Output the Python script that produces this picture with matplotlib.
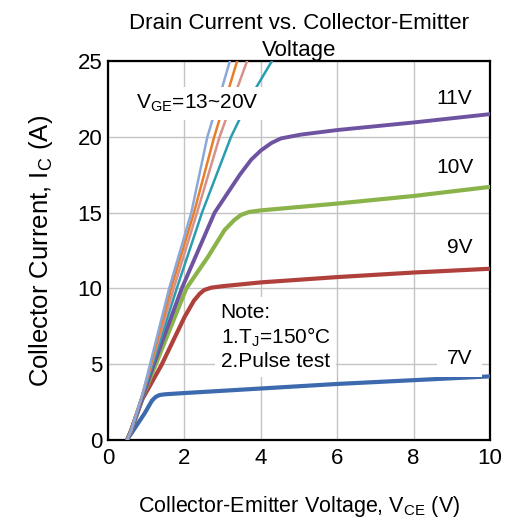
import matplotlib.pyplot as plt
import numpy as np

plt.rcParams['font.family'] = ['Liberation Sans', 'DejaVu Sans']

# output curves: V_CE (V), I_C (A)
vge20_x = [0.5, 0.6, 0.9, 1.1, 1.6, 2.18, 2.6, 2.9, 3.19]
vge20_y = [0.0, 0.6, 3.0, 5.0, 10.0, 15.0, 20.0, 22.5, 25.0]
vge17_x = [0.5, 0.6, 0.9, 1.12, 1.65, 2.25, 2.78, 3.08, 3.38]
vge17_y = [0.0, 0.6, 3.0, 5.0, 10.0, 15.0, 20.0, 22.5, 25.0]
vge15_x = [0.5, 0.6, 0.9, 1.14, 1.72, 2.33, 2.92, 3.28, 3.64]
vge15_y = [0.0, 0.6, 3.0, 5.0, 10.0, 15.0, 20.0, 22.5, 25.0]
vge13_x = [0.5, 0.6, 0.9, 1.17, 1.8, 2.46, 3.22, 3.7, 4.29]
vge13_y = [0.0, 0.6, 2.9, 5.0, 10.0, 15.0, 20.0, 22.5, 25.0]
vge11_x = [0.5, 0.6, 0.9, 1.2, 1.93, 2.79, 3.45, 3.75, 4.0, 4.28, 4.53, 5.05, 6.0, 8.0, 10.0]
vge11_y = [0.0, 0.6, 2.8, 5.0, 10.0, 15.0, 17.5, 18.5, 19.1, 19.6, 19.9, 20.15, 20.45, 20.95, 21.5]
vge10_x = [0.5, 0.6, 0.9, 1.25, 2.05, 2.62, 3.05, 3.3, 3.48, 3.7, 4.0, 6.0, 8.0, 10.0]
vge10_y = [0.0, 0.6, 2.8, 5.0, 10.0, 12.1, 13.85, 14.5, 14.85, 15.05, 15.15, 15.6, 16.1, 16.7]
vge9_x = [0.5, 0.6, 0.9, 1.4, 2.0, 2.25, 2.4, 2.52, 2.7, 3.0, 4.0, 6.0, 8.0, 10.0]
vge9_y = [0.0, 0.6, 2.7, 4.95, 8.1, 9.2, 9.65, 9.9, 10.05, 10.15, 10.4, 10.75, 11.05, 11.3]
vge7_x = [0.52, 0.96, 1.15, 1.25, 1.35, 1.5, 2.0, 4.0, 6.0, 8.0, 10.0]
vge7_y = [0.1, 1.77, 2.6, 2.85, 2.97, 3.02, 3.1, 3.4, 3.7, 3.95, 4.2]

curves = [
    (vge7_x, vge7_y, '#3d6aae', 3.0),
    (vge9_x, vge9_y, '#b0403c', 3.0),
    (vge10_x, vge10_y, '#8ab34a', 3.0),
    (vge11_x, vge11_y, '#6e54a0', 2.8),
    (vge13_x, vge13_y, '#2a9db0', 1.8),
    (vge15_x, vge15_y, '#d8908a', 1.8),
    (vge17_x, vge17_y, '#e87d2a', 1.8),
    (vge20_x, vge20_y, '#8ba8d8', 1.8),
]

fig = plt.figure(figsize=(5.12, 5.22), dpi=100)
ax = fig.add_axes([0.211, 0.157, 0.746, 0.726])

for xs, ys, c, w in curves:
    ax.plot(xs, ys, color=c, lw=w, solid_capstyle='round', solid_joinstyle='round', zorder=3)

ax.set_xlim(0, 10)
ax.set_ylim(0, 25)
ax.set_xticks([0, 2, 4, 6, 8, 10])
ax.set_yticks([0, 5, 10, 15, 20, 25])
ax.grid(color='#c4c4c4', lw=1.0, zorder=0)
ax.set_axisbelow(True)
ax.tick_params(length=0, labelsize=16)
ax.tick_params(axis='x', pad=6)
ax.tick_params(axis='y', pad=4)
for s in ax.spines.values():
    s.set_linewidth(1.6)
    s.set_color('black')

ax.text(0.73, 22.2, 'V$_{\\mathregular{GE}}$=13~20V', fontsize=15, va='center',
        bbox=dict(facecolor='white', edgecolor='none', pad=4), zorder=4)
ax.text(8.6, 22.55, '11V', fontsize=15, va='center', zorder=4)
ax.text(8.6, 18.0, '10V', fontsize=15, va='center', zorder=4)
ax.text(8.87, 12.7, '9V', fontsize=15, va='center', zorder=4)
ax.text(8.87, 5.4, '7V', fontsize=15, va='center',
        bbox=dict(facecolor='white', edgecolor='none', pad=7), zorder=4)
ax.text(2.95, 9.05, 'Note:\n1.T$_{\\mathregular{J}}$=150°C\n2.Pulse test', fontsize=15,
        va='top', linespacing=1.2,
        bbox=dict(facecolor='white', edgecolor='none', pad=4), zorder=4)

ax.set_title('Drain Current vs. Collector-Emitter\nVoltage', fontsize=16, pad=3,
             linespacing=1.4)
ax.set_xlabel('Collector-Emitter Voltage, V$_{\\mathregular{CE}}$ (V)', fontsize=15.5, labelpad=18)
ax.set_ylabel('Collector Current, I$_{\\mathregular{C}}$ (A)', fontsize=18.5, labelpad=16)

fig.savefig('out.png', dpi=100)
